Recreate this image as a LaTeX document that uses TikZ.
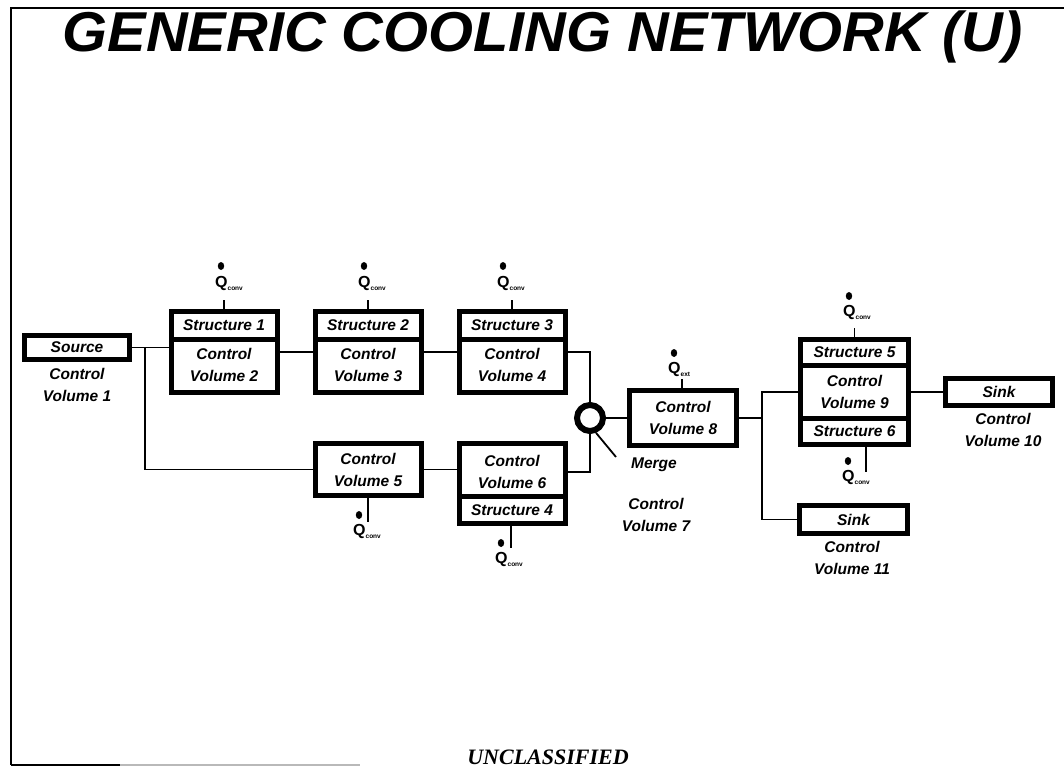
\documentclass[tikz,border=0pt]{standalone}
\usepackage{graphicx}
\usepackage{fontspec}
\setmainfont{Liberation Sans}
\newfontfamily\timesf{Liberation Serif}
\newcommand{\qsym}[1]{Q\raisebox{-3pt}{\fontsize{6.5}{6.5}\selectfont #1}}
\begin{document}
\begin{tikzpicture}[x=1pt,y=-1pt,
  lbl/.style={font=\fontsize{15.5}{22}\selectfont\bfseries\itshape, align=center, inner sep=0pt},
  boxo/.style={draw, line width=5pt, fill=white, inner sep=0pt},
  cell/.style={draw, line width=5pt, fill=white, inner sep=0pt, align=center,
    font=\fontsize{15.5}{22}\selectfont\bfseries\itshape},
  conn/.style={line width=1.8pt},
  qline/.style={line width=1.4pt},
  qd/.style={inner sep=0pt, font=\fontsize{16}{16}\selectfont\bfseries, anchor=base west},
  qdot/.style={fill=black},
]
\useasboundingbox (0,0) rectangle (1064,770);

% frame
\draw[line width=2pt] (11,765) -- (11,8) -- (1064,8);
\draw[line width=2pt] (11,765) -- (120,765);
\draw[line width=1.5pt, gray!55] (120,765) -- (360,765);

% title
\node[anchor=base, inner sep=0pt, font=\fontsize{53}{53}\selectfont\bfseries\itshape] (title) at (542.5,52)
  {\scalebox{1.09}[1.06]{GENERIC COOLING NETWORK (U)}};

% source
\node[cell, minimum width=105pt, minimum height=24pt] (src) at (77,347.5) {Source};
\node[lbl] (l1) at (77,385) {Control\\Volume 1};

% upper branch
\node[boxo, minimum width=106pt, minimum height=81pt] (b2) at (224,352) {};
\node[cell, minimum width=106pt, minimum height=27.5pt, anchor=north] (s1) at (b2.north) {Structure 1};
\node[lbl] (c2) at (224,365) {Control\\Volume 2};

\node[boxo, minimum width=106pt, minimum height=81pt] (b3) at (368,352) {};
\node[cell, minimum width=106pt, minimum height=27.5pt, anchor=north] (s2) at (b3.north) {Structure 2};
\node[lbl] (c3) at (368,365) {Control\\Volume 3};

\node[boxo, minimum width=106pt, minimum height=81pt] (b4) at (512,352) {};
\node[cell, minimum width=106pt, minimum height=27.5pt, anchor=north] (s3) at (b4.north) {Structure 3};
\node[lbl] (c4) at (512,365) {Control\\Volume 4};

% lower branch
\node[cell, minimum width=106pt, minimum height=52pt] (b5) at (368,469.5) {Control\\Volume 5};

\node[boxo, minimum width=106pt, minimum height=80pt] (b6) at (512,483.5) {};
\node[cell, minimum width=106pt, minimum height=27pt, anchor=south] (s4) at (b6.south) {Structure 4};
\node[lbl] (c6) at (512,472) {Control\\Volume 6};

% merge
\node[circle, draw, line width=6pt, minimum size=26pt, inner sep=0pt] (m) at (590,418) {};
\coordinate (mend) at (616,457);
\node[lbl] (ml) at (654,465) {Merge};
\node[lbl] (l7) at (656,514.5) {Control\\Volume 7};

% CV8
\node[cell, minimum width=107pt, minimum height=55pt] (b8) at (683,418) {Control\\Volume 8};

% CV9
\node[boxo, minimum width=108pt, minimum height=105pt] (b9) at (854.5,392) {};
\node[cell, minimum width=108pt, minimum height=25.5pt, anchor=north] (s5) at (b9.north) {Structure 5};
\node[cell, minimum width=108pt, minimum height=26pt, anchor=south] (s6) at (b9.south) {Structure 6};
\node[lbl] (c9) at (854.5,391.5) {Control\\Volume 9};

% sinks
\node[cell, minimum width=107pt, minimum height=27pt] (k10) at (999,392) {Sink};
\node[lbl] (l10) at (1003,430) {Control\\Volume 10};
\node[cell, minimum width=108pt, minimum height=28pt] (k11) at (853.5,519.5) {Sink};
\node[lbl] (l11) at (852,557.5) {Control\\Volume 11};

% connectors
\coordinate (j1) at (145,347.5);
\coordinate (j2) at (762,418);
\draw[conn] (src.east) -- (src.east -| b2.west);
\draw[conn] (j1) |- (b5.west);
\draw[conn] (b2.east) -- (b3.west);
\draw[conn] (b3.east) -- (b4.west);
\draw[conn] (b4.east) -| (m.north);
\draw[conn] (b5.east) -- (b5.east -| b6.west);
\draw[conn] (b6.east |- c6) -| (m.south);
\draw[conn] (m.east) -- (b8.west);
\draw[conn] (m.-68) -- (mend);
\draw[conn] (b8.east) -- (j2) |- (b9.west);
\draw[conn] (j2) |- (k11.west);
\draw[conn] (b9.east) -- (k10.west);

% heat flows
\node[qd] (q2) at (215,287) {\qsym{conv}};
\fill[qdot] (221,266) ellipse (3.2pt and 4pt);
\draw[qline] (b2.north) -- ++(0,-9);

\node[qd] (q3) at (358,287) {\qsym{conv}};
\fill[qdot] (364,266) ellipse (3.2pt and 4pt);
\draw[qline] (b3.north) -- ++(0,-9);

\node[qd] (q4) at (497,287) {\qsym{conv}};
\fill[qdot] (503,266) ellipse (3.2pt and 4pt);
\draw[qline] (b4.north) -- ++(0,-9);

\node[qd] (q8) at (668,373) {\qsym{ext}};
\fill[qdot] (674,353) ellipse (3.2pt and 4pt);
\draw[qline] ([xshift=-1pt]b8.north) -- ++(0,-9);

\node[qd] (q9) at (843,316) {\qsym{conv}};
\fill[qdot] (849,296) ellipse (3.2pt and 4pt);
\draw[qline] (b9.north) -- ++(0,-9);

\node[qd] (q9b) at (842,481) {\qsym{conv}};
\fill[qdot] (848,461) ellipse (3.2pt and 4pt);
\draw[qline] ([xshift=11.5pt]b9.south) -- ++(0,25);

\node[qd] (q5) at (353,535) {\qsym{conv}};
\fill[qdot] (359,515) ellipse (3.2pt and 4pt);
\draw[qline] (b5.south) -- ++(0,24);

\node[qd] (q6) at (495,563) {\qsym{conv}};
\fill[qdot] (501,543) ellipse (3.2pt and 4pt);
\draw[qline] ([xshift=-1pt]b6.south) -- ++(0,22);

% footer
\node[anchor=base, inner sep=0pt, font=\timesf\fontsize{22}{22}\selectfont\bfseries\itshape] (unc) at (548,764) {UNCLASSIFIED};
\end{tikzpicture}
\end{document}
